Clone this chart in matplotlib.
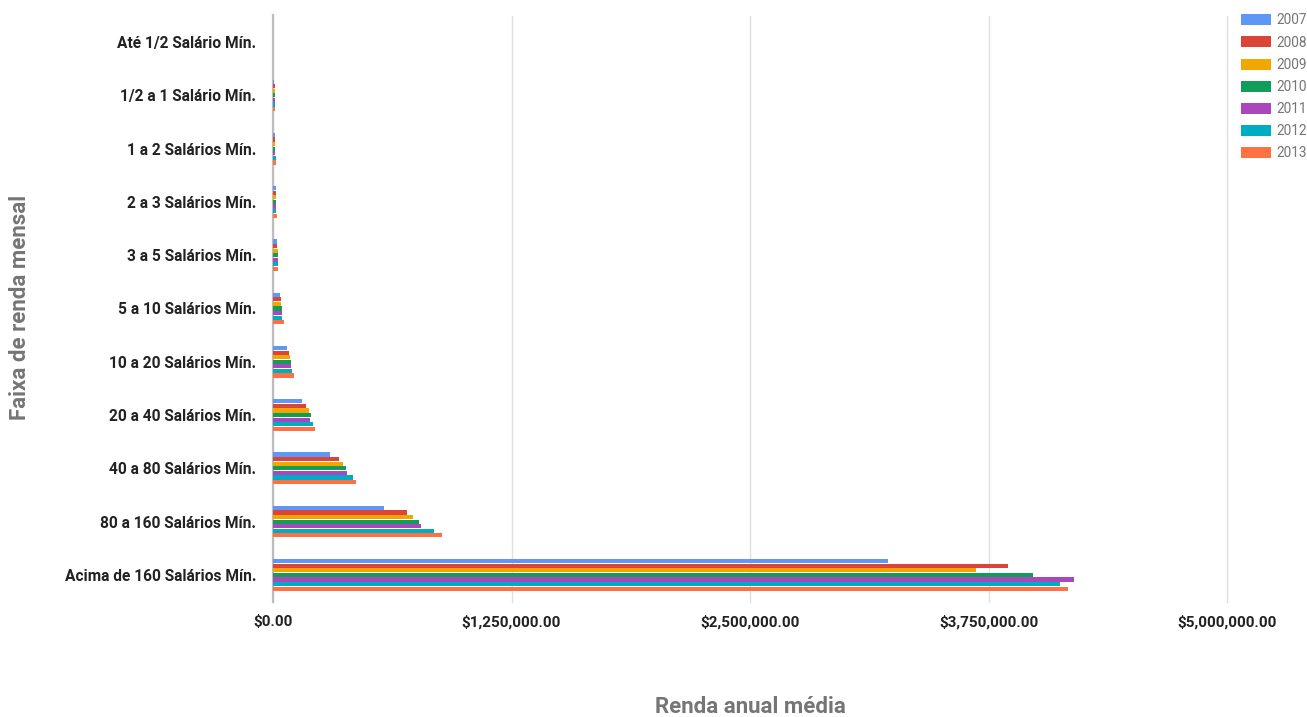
import matplotlib
matplotlib.use("Agg")
import matplotlib.pyplot as plt
from matplotlib.patches import Patch
from matplotlib.ticker import FuncFormatter
import numpy as np

categories = ["Até 1/2 Salário Mín.", "1/2 a 1 Salário Mín.", "1 a 2 Salários Mín.",
              "2 a 3 Salários Mín.", "3 a 5 Salários Mín.", "5 a 10 Salários Mín.",
              "10 a 20 Salários Mín.", "20 a 40 Salários Mín.", "40 a 80 Salários Mín.",
              "80 a 160 Salários Mín.", "Acima de 160 Salários Mín."]
years = ["2007", "2008", "2009", "2010", "2011", "2012", "2013"]

v2007 = [1500, 7500, 11000, 14000, 19000, 36700, 73400, 150200, 300400, 580000, 3221000]
v2008 = [1600, 8000, 12000, 14000, 19500, 43700, 85600, 174700, 347600, 700600, 3850000]
v2009 = [1700, 8000, 12500, 13500, 24400, 42000, 90800, 186900, 365000, 733700, 3686000]
v2010 = [1800, 8500, 13000, 14500, 25000, 48900, 96100, 199200, 384400, 765200, 3983000]
v2011 = [1800, 8500, 13000, 14500, 25000, 48000, 95000, 196000, 387800, 777400, 4196000]
v2012 = [1900, 8500, 13500, 14500, 25500, 49500, 101300, 209600, 419300, 842100, 4126000]
v2013 = [2000, 9000, 14000, 20000, 27000, 55900, 108300, 221800, 436800, 884000, 4167000]
series = [v2007, v2008, v2009, v2010, v2011, v2012, v2013]
colors = ["#5e97f6", "#db4437", "#f2a600", "#0f9d58", "#ab47bc", "#00acc1", "#ff7043"]

xticks = [0, 1250000, 2500000, 3750000, 5000000]

fig = plt.figure(figsize=(13.07, 7.17), dpi=100)
W, H = 1307, 717
left, right, top, bottom = 273, 1227, 15.5, 601.5
ax = fig.add_axes([left / W, 1 - bottom / H, (right - left) / W, (bottom - top) / H])

n = len(years)
step = 0.086
bh = 0.078
y = np.arange(len(categories))
for i, (vals, c, yr) in enumerate(zip(series, colors, years)):
    offs = (i - (n - 1) / 2) * step
    ax.barh(y + offs, vals, height=bh, color=c, label=yr, zorder=3)

ax.set_ylim(len(categories) - 0.5, -0.5)
ax.set_xlim(0, 5000000)
ax.set_yticks(y)
ax.set_yticklabels(categories, fontsize=11.2, fontweight="bold", color="#222222", family="Roboto")
ax.set_xticks(xticks)
ax.xaxis.set_major_formatter(FuncFormatter(lambda v, p: "${:,.2f}".format(v)))
for lab in ax.get_xticklabels():
    lab.set_fontsize(11)
    lab.set_fontweight("bold")
    lab.set_color("#222222")
    lab.set_family("Roboto")
ax.tick_params(axis="both", length=0)
ax.tick_params(axis="y", pad=12)
ax.tick_params(axis="x", pad=10)
ax.grid(axis="x", color="#e0e0e0", linewidth=1, zorder=0)
for gl in ax.xaxis.get_gridlines():
    gl.set_clip_on(False)
for s in ["top", "right", "bottom"]:
    ax.spines[s].set_visible(False)
ax.spines["left"].set_color("#bdbdbd")
ax.spines["left"].set_linewidth(1.6)
ax.spines["left"].set_zorder(2)

fig.text((left + right) / 2 / W, 1 - 707 / H, "Renda anual média", ha="center", va="center",
         fontsize=16, fontweight="bold", color="#757575", family="Roboto")
fig.text(20 / W, 1 - 307 / H, "Faixa de renda mensal", ha="center", va="center", rotation=90,
         fontsize=16, fontweight="bold", color="#757575", family="Roboto")

handles = [Patch(facecolor=c, edgecolor="none", label=yr) for c, yr in zip(colors, years)]
leg = fig.legend(handles=handles, loc="upper left", bbox_to_anchor=(1236 / W, 1 - 8 / H),
                 frameon=False, fontsize=9.8, handlelength=2.15, handleheight=0.88,
                 labelspacing=0.6, handletextpad=0.45, borderaxespad=0)
for t in leg.get_texts():
    t.set_color("#757575")
    t.set_family("Roboto")

fig.savefig("out.png", dpi=100, facecolor="white")
